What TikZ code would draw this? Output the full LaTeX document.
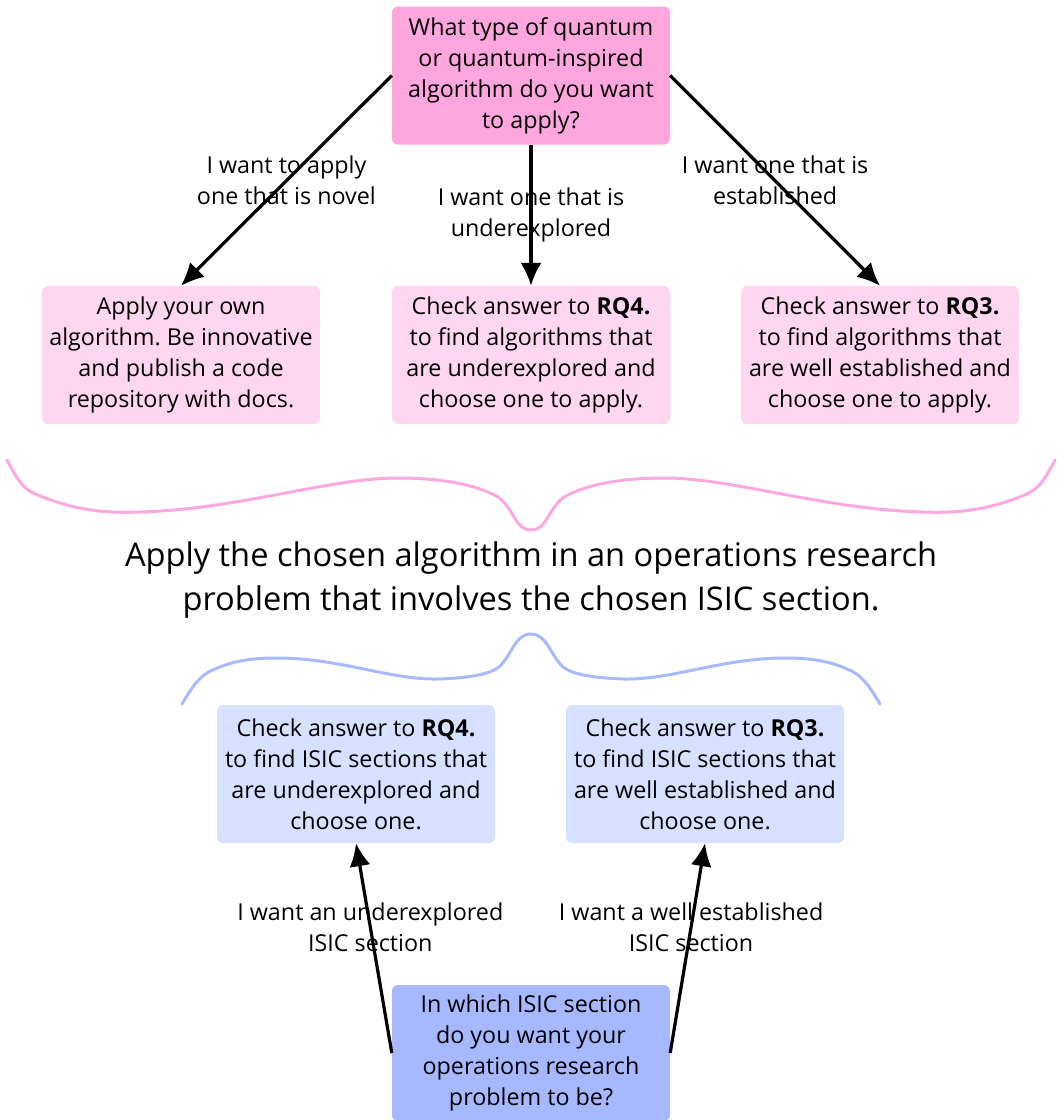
\documentclass[tikz,border=0pt]{standalone}
\usepackage{fontspec}
\setmainfont{Open Sans}
\frenchspacing
\definecolor{QuestionPink}{RGB}{255,166,222}
\definecolor{AnswerPink}{RGB}{255,214,240}
\definecolor{BracePink}{RGB}{255,168,224}
\definecolor{QuestionBlue}{RGB}{166,184,255}
\definecolor{AnswerBlue}{RGB}{214,224,255}
\definecolor{BraceBlue}{RGB}{166,186,255}
\usepackage{tikz}
\usetikzlibrary{positioning, arrows.meta}
\tikzstyle{box} = [rounded corners=6pt, minimum width=278pt, minimum height=138pt, align=center, inner sep=0pt, font=\fontsize{23.3}{31}\selectfont]
\tikzstyle{arrow} = [line width=3.2pt, black, -{Latex[length=23pt,width=21pt]}]
\tikzstyle{choice} = [align=center, font=\fontsize{23.3}{31}\selectfont, inner sep=0pt]
\tikzstyle{brace} = [line width=3pt, line cap=round, line join=round]

\begin{document}
\begin{tikzpicture}[x=1pt,y=-1pt]
        \useasboundingbox (0,0) rectangle (1060,1120);

        % Algorithm question
        \node[box, fill=QuestionPink] (qalgo) at (531,75.5) {What type of quantum\\or quantum-inspired\\algorithm do you want\\to apply?};

        % Algorithm answers
        \node[box, fill=AnswerPink] (novel) at (181,355) {Apply your own\\algorithm. Be innovative\\and publish a code\\repository with docs.};
        \node[box, fill=AnswerPink] (under) at (531,355) {Check answer to \textbf{RQ4.}\\to find algorithms that\\are underexplored and\\choose one to apply.};
        \node[box, fill=AnswerPink] (estab) at (880,355) {Check answer to \textbf{RQ3.}\\to find algorithms that\\are well established and\\choose one to apply.};

        \draw[arrow] (qalgo.west) -- node[choice] {I want to apply\\one that is novel} (novel.north);
        \draw[arrow] (qalgo.south) -- node[choice] {I want one that is\\underexplored} (under.north);
        \draw[arrow] (qalgo.east) -- node[choice] {I want one that is\\established} (estab.north);

        % Pink brace
        \draw[brace, BracePink] (7,460) .. controls (20,485) and (25,490) .. (40,496)
          .. controls (80,512) and (110,513) .. (140,512)
          .. controls (240,509) and (330,478) .. (397,478)
          .. controls (440,478) and (475,484) .. (498,497)
          .. controls (515,510) and (515,530) .. (531,530)
          .. controls (547,530) and (547,510) .. (564,497)
          .. controls (587,484) and (622,478) .. (665,478)
          .. controls (732,478) and (822,509) .. (922,512)
          .. controls (952,513) and (982,512) .. (1022,496)
          .. controls (1037,490) and (1042,485) .. (1055,460);

        % Common goal
        \node[align=center, font=\fontsize{32.6}{44}\selectfont, inner sep=0pt] (apply) at (531,580) {Apply the chosen algorithm in an operations research\\problem that involves the chosen ISIC section.};

        % Blue brace
        \draw[brace, BraceBlue] (182,704) .. controls (195,682) and (202,674) .. (215,669)
          .. controls (235,660) and (255,658) .. (277,658)
          .. controls (340,658) and (390,680) .. (438,679)
          .. controls (470,678) and (490,674) .. (499,667)
          .. controls (512,655) and (515,634) .. (531,634)
          .. controls (547,634) and (550,655) .. (563,667)
          .. controls (572,674) and (592,678) .. (624,679)
          .. controls (672,680) and (722,658) .. (785,658)
          .. controls (807,658) and (827,660) .. (847,669)
          .. controls (860,674) and (867,682) .. (880,704);

        % ISIC answers
        \node[box, fill=AnswerBlue] (isicunder) at (356,774) {Check answer to \textbf{RQ4.}\\to find ISIC sections that\\are underexplored and\\choose one.};
        \node[box, fill=AnswerBlue] (isicestab) at (705,774) {Check answer to \textbf{RQ3.}\\to find ISIC sections that\\are well established and\\choose one.};

        % ISIC question
        \node[box, fill=QuestionBlue, minimum height=136pt] (isicq) at (531,1053) {In which ISIC section\\do you want your\\operations research\\problem to be?};

        \draw[arrow] (isicq.west) -- node[choice, pos=0.6] {I want an underexplored\\ISIC section} (isicunder.south);
        \draw[arrow] (isicq.east) -- node[choice, pos=0.6] {I want a well established\\ISIC section} (isicestab.south);

      \end{tikzpicture}
\end{document}
